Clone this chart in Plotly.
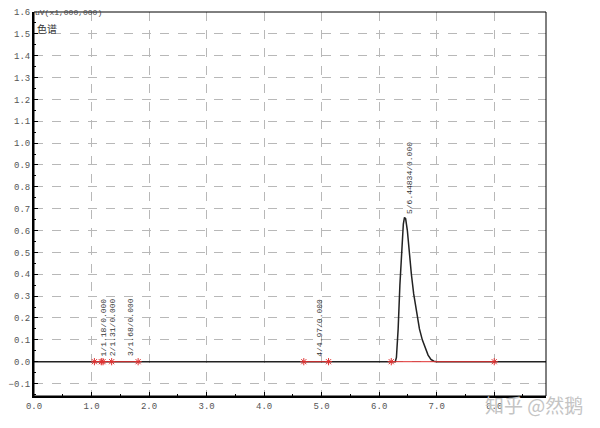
# chromatogram recreation
import plotly.graph_objects as go

# detector signal (uV x 1,000,000)
time = [0.0, 6.28, 6.30, 6.33, 6.36, 6.39, 6.42, 6.44, 6.46, 6.49, 6.52, 6.56,
        6.60, 6.65, 6.70, 6.75, 6.80, 6.85, 6.90, 6.95, 7.00, 8.90]
signal = [0.0, 0.0, 0.02, 0.15, 0.35, 0.52, 0.63, 0.66, 0.655, 0.60, 0.50, 0.40,
          0.31, 0.22, 0.15, 0.10, 0.06, 0.03, 0.01, 0.002, 0.0, 0.0]

# integration baselines (start, end)
base_start = [1.05, 4.69, 6.21]
base_end = [1.81, 5.12, 8.00]

# peak event marks
mark_time = [1.05, 1.17, 1.20, 1.35, 1.81, 4.69, 5.12, 6.21, 8.00]

# peak labels
label_time = [1.20, 1.37, 1.68, 4.96, 6.53]
label_height = [0.015, 0.015, 0.015, 0.015, 0.665]
label_text = ['1/1.18/0.000', '2/1.31/0.000', '3/1.68/0.000',
              '4/4.97/0.000', '5/6.44834/0.000']

y_ticks = [-0.1, 0.0, 0.1, 0.2, 0.3, 0.4, 0.5, 0.6, 0.7, 0.8, 0.9, 1.0,
           1.1, 1.2, 1.3, 1.4, 1.5, 1.6]
x_ticks = [0.0, 1.0, 2.0, 3.0, 4.0, 5.0, 6.0, 7.0, 8.0]

mono = 'Liberation Mono'
red = '#e03030'

fig = go.Figure()
fig.add_trace(go.Scatter(x=time, y=signal, mode='lines',
                         line=dict(color='#222222', width=1.5),
                         hoverinfo='skip'))

bx, by = [], []
for s, e in zip(base_start, base_end):
    bx += [s, e, None]
    by += [0, 0, None]
fig.add_trace(go.Scatter(x=bx, y=by, mode='lines',
                         line=dict(color=red, width=1)))
fig.add_trace(go.Scatter(x=mark_time, y=[0] * len(mark_time), mode='markers',
                         marker=dict(symbol='asterisk-open', size=6, color=red,
                                     line=dict(color=red, width=1))))

for t, h, txt in zip(label_time, label_height, label_text):
    fig.add_annotation(x=t, y=h, text=txt, textangle=-90, showarrow=False,
                       xanchor='center', yanchor='bottom',
                       font=dict(family=mono, size=8, color='#333333'))

# unit text sits right on the top frame
fig.add_annotation(xref='paper', yref='paper', x=0, y=1, text='uV(x1,000,000)',
                   showarrow=False, xanchor='left', yanchor='top', yshift=5,
                   borderpad=0, font=dict(family=mono, size=8, color='#444444'))
fig.add_annotation(xref='paper', yref='paper', x=0.002, y=0.982, text='色谱',
                   showarrow=False, xanchor='left', yanchor='top', textangle=0,
                   font=dict(family='Noto Sans CJK SC, sans-serif', size=10,
                             color='#333333'))
fig.add_annotation(xref='paper', yref='paper', x=1.076, y=-0.023, text='知乎 @然鹅',
                   showarrow=False, xanchor='right', yanchor='middle',
                   font=dict(family='Noto Sans CJK SC', size=19, color='#c4c4c4'))

# thin frame on top and right
fig.add_shape(type='rect', xref='paper', yref='paper', x0=0, y0=0, x1=1, y1=1,
              line=dict(color='black', width=1))

fig.update_xaxes(range=[0, 8.9], tickvals=x_ticks, tickformat='.1f', automargin=False,
                 showgrid=True, gridcolor='#b8b8b8', griddash='dash', gridwidth=1,
                 showline=True, linecolor='black', linewidth=2,
                 ticks='inside', ticklen=4, tickcolor='black', zeroline=False,
                 minor=dict(dtick=0.5, ticks='inside', ticklen=2, tickcolor='black',
                            showgrid=False),
                 tickfont=dict(family=mono, size=9, color='#555555'))
fig.update_yaxes(range=[-0.157, 1.6], tickvals=y_ticks, tickformat='.1f', automargin=False,
                 showgrid=True, gridcolor='#b8b8b8', griddash='dash', gridwidth=1,
                 showline=True, linecolor='black', linewidth=2,
                 ticks='inside', ticklen=4, tickcolor='black', zeroline=False,
                 minor=dict(dtick=0.05, ticks='inside', ticklen=2, tickcolor='black',
                            showgrid=False),
                 tickfont=dict(family=mono, size=9, color='#555555'))

# the page adds a small body margin, so the figure is sized to fit inside it
fig.update_layout(width=592, height=420, showlegend=False,
                  plot_bgcolor='white', paper_bgcolor='white',
                  margin=dict(l=26, r=54, t=4, b=32))
fig.write_html('out.html')
